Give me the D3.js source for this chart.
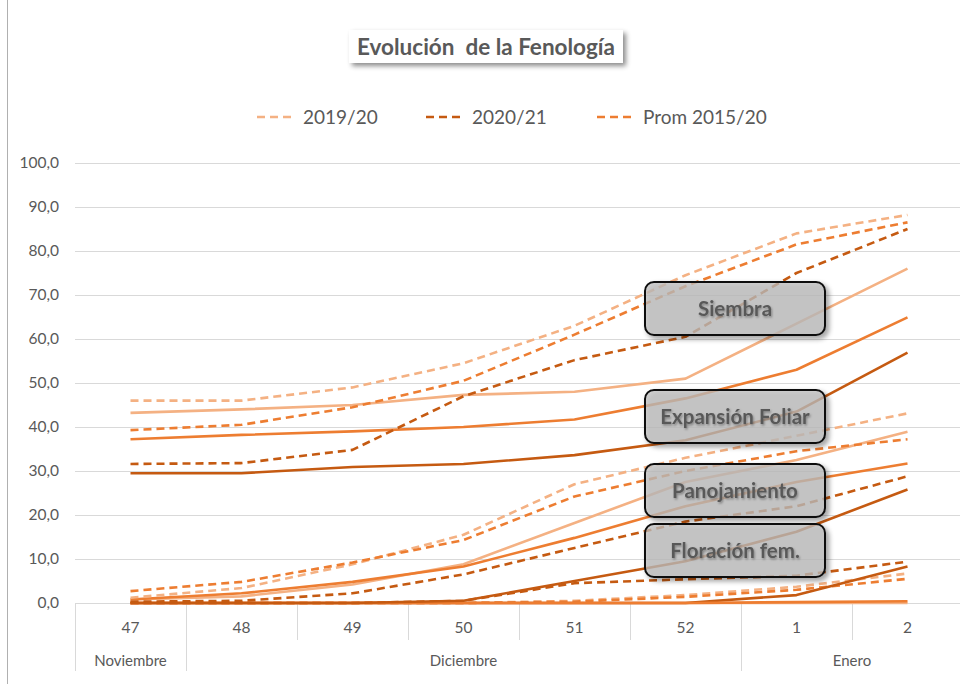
<!DOCTYPE html>
<html>
<head>
<meta charset="utf-8">
<script src="https://cdn.jsdelivr.net/npm/d3@7"></script>
<style>
	body { margin: 0; background: #fff; }
	#idContent { width: 960px; height: 684px; overflow: hidden; }
	text { font-family: Lato, "Open Sans", sans-serif; }
</style>
</head>
<body>
<div id="idContent"></div>
<script>
var aWeeks = ["47", "48", "49", "50", "51", "52", "1", "2"];
var aMonths = ["Noviembre", "Diciembre", "Enero"];
var aMonthSpans = [1, 5, 2];
var aYTicks = [0, 10, 20, 30, 40, 50, 60, 70, 80, 90, 100];
var aSeasons = ["2019/20", "2020/21", "Prom 2015/20"];
var aSeasonColors = ["#F4B183", "#C55A11", "#ED7D31"];
var aLabels = ["Siembra", "Expansión Foliar", "Panojamiento", "Floración fem."];

// Siembra (dashed, upper group)
var aSiembra1920 = [46, 46, 49, 54.5, 63, 74.5, 84, 88.2];
var aSiembra2021 = [31.6, 31.8, 34.8, 47, 55.2, 60.5, 75, 85];
var aSiembraProm = [39.3, 40.5, 44.5, 50.5, 61, 72, 81.5, 86.5];

// Expansion foliar (solid, upper group)
var aExpansion1920 = [43.2, 44, 45, 47.3, 48, 51, 63.5, 76];
var aExpansion2021 = [29.5, 29.5, 30.9, 31.6, 33.6, 37, 43.5, 56.9];
var aExpansionProm = [37.2, 38.2, 39, 40, 41.7, 46.5, 53, 64.9];

// Panojamiento (dashed, lower group)
var aPanoja1920 = [1.2, 3.4, 8.8, 15.5, 27, 33, 38, 43.1];
var aPanoja2021 = [0.3, 0.5, 2.2, 6.5, 12.5, 18.5, 22, 28.8];
var aPanojaProm = [2.7, 4.8, 9.2, 14.3, 24.2, 30, 34.5, 37.2];

// Floracion fem. (solid, lower group)
var aFloracion1920 = [0.8, 1.5, 4.2, 8.8, 18.2, 27.5, 32.5, 38.9];
var aFloracion2021 = [0, 0, 0, 0.5, 5, 9.5, 16.2, 25.8];
var aFloracionProm = [0.8, 2.2, 4.8, 8.3, 14.8, 22, 27.5, 31.7];

// near-zero group, dashed
var aBajaDash1920 = [0, 0, 0, 0, 0.5, 1.8, 3.7, 6.7];
var aBajaDash2021 = [0, 0, 0, 0.5, 4.5, 5.4, 6.2, 9.4];
var aBajaDashProm = [0, 0, 0, 0, 0.3, 1.4, 3, 5.5];

// near-zero group, solid
var aBajaSolid1920 = [0, 0, 0, 0, 0, 0, 0, 0];
var aBajaSolid2021 = [0, 0, 0, 0, 0, 0, 1.8, 8.3];
var aBajaSolidProm = [0, 0, 0, 0, 0, 0, 0.2, 0.4];

function buildPhases() {
	return [
		{ dashed: true, series: [aBajaDash1920, aBajaDash2021, aBajaDashProm] },
		{ dashed: false, series: [aBajaSolid1920, aBajaSolid2021, aBajaSolidProm] },
		{ dashed: false, series: [aFloracion1920, aFloracion2021, aFloracionProm] },
		{ dashed: true, series: [aPanoja1920, aPanoja2021, aPanojaProm] },
		{ dashed: false, series: [aExpansion1920, aExpansion2021, aExpansionProm] },
		{ dashed: true, series: [aSiembra1920, aSiembra2021, aSiembraProm] }
	];
}

function createGraph() {
	var width = 960, height = 684;
	var margin = { top: 163, right: -3, bottom: 81, left: 75 };

	var svg = d3.select("#idContent").append("svg")
		.attr("width", width)
		.attr("height", height);

	var defs = svg.append("defs");
	var fShadow = defs.append("filter").attr("id", "boxShadow")
		.attr("x", "-10%").attr("y", "-20%").attr("width", "130%").attr("height", "160%");
	fShadow.append("feDropShadow").attr("dx", 3).attr("dy", 3).attr("stdDeviation", 2.5)
		.attr("flood-color", "#000").attr("flood-opacity", 0.45);
	var fText = defs.append("filter").attr("id", "textShadow")
		.attr("x", "-10%").attr("y", "-30%").attr("width", "130%").attr("height", "180%");
	fText.append("feDropShadow").attr("dx", 1).attr("dy", 1.5).attr("stdDeviation", 1.2)
		.attr("flood-color", "#000").attr("flood-opacity", 0.35);

	// chart area border (only the left edge is inside the picture)
	svg.append("line")
		.attr("x1", 7.5).attr("x2", 7.5).attr("y1", 0).attr("y2", height)
		.attr("stroke", "#b0b0b0").attr("stroke-width", 1);

	var x = d3.scaleBand().domain(aWeeks)
		.range([margin.left, width - margin.right])
		.padding(0);
	var y = d3.scaleLinear().domain([0, 100])
		.range([height - margin.bottom, margin.top]);

	// gridlines
	svg.append("g").selectAll("line")
		.data(aYTicks)
		.enter().append("line")
		.attr("x1", margin.left).attr("x2", width - margin.right)
		.attr("y1", function (d) { return Math.round(y(d)) + 0.5; })
		.attr("y2", function (d) { return Math.round(y(d)) + 0.5; })
		.attr("stroke", "#d9d9d9").attr("stroke-width", 1);

	// y labels
	svg.append("g").selectAll("text")
		.data(aYTicks)
		.enter().append("text")
		.attr("x", 59)
		.attr("y", function (d) { return y(d); })
		.attr("dy", "0.35em")
		.attr("text-anchor", "end")
		.attr("font-size", 15.5)
		.attr("fill", "#595959")
		.text(function (d) { return d.toFixed(1).replace(".", ","); });

	// x axis: week separators and month separators
	var aMonthEdges = [0];
	aMonthSpans.forEach(function (n, i) { aMonthEdges.push(aMonthEdges[i] + n); });
	var aEdges = d3.range(aWeeks.length + 1);
	svg.append("g").selectAll("line")
		.data(aEdges)
		.enter().append("line")
		.attr("x1", function (i) { return Math.round(margin.left + i * x.bandwidth()) + 0.5; })
		.attr("x2", function (i) { return Math.round(margin.left + i * x.bandwidth()) + 0.5; })
		.attr("y1", y(0))
		.attr("y2", function (i) { return aMonthEdges.indexOf(i) >= 0 ? 671 : 640; })
		.attr("stroke", "#d9d9d9").attr("stroke-width", 1);

	svg.append("g").selectAll("text")
		.data(aWeeks)
		.enter().append("text")
		.attr("x", function (d) { return x(d) + x.bandwidth() / 2; })
		.attr("y", 633)
		.attr("text-anchor", "middle")
		.attr("font-size", 15.5)
		.attr("fill", "#595959")
		.text(function (d) { return d; });

	svg.append("g").selectAll("text")
		.data(aMonths)
		.enter().append("text")
		.attr("x", function (d, i) {
			var x0 = x(aWeeks[aMonthEdges[i]]);
			var x1 = x(aWeeks[aMonthEdges[i + 1] - 1]) + x.bandwidth();
			return (x0 + x1) / 2;
		})
		.attr("y", 666)
		.attr("text-anchor", "middle")
		.attr("font-size", 15)
		.attr("fill", "#595959")
		.text(function (d) { return d; });

	// lines
	var line = d3.line()
		.x(function (d, i) { return x(aWeeks[i]) + x.bandwidth() / 2; })
		.y(function (d) { return y(d); });

	var aPhases = buildPhases();
	var gLines = svg.append("g").attr("fill", "none");
	aPhases.forEach(function (phase) {
		phase.series.forEach(function (aValues, i) {
			gLines.append("path")
				.attr("d", line(aValues))
				.attr("stroke", aSeasonColors[i])
				.attr("stroke-width", 2.6)
				.attr("stroke-dasharray", phase.dashed ? "8,5" : null)
				.attr("stroke-linejoin", "round");
		});
	});

	// phase labels
	var aLabelTops = [282, 390, 464, 524];
	var gLabels = svg.append("g");
	aLabels.forEach(function (sLabel, i) {
		var gBox = gLabels.append("g");
		gBox.append("rect")
			.attr("x", 645).attr("y", aLabelTops[i])
			.attr("width", 180).attr("height", 53)
			.attr("rx", 9).attr("ry", 9)
			.attr("fill", "#bfbfbf").attr("fill-opacity", 0.72)
			.attr("stroke", "#111").attr("stroke-width", 2)
			.attr("filter", "url(#boxShadow)");
		gBox.append("text")
			.attr("x", 735).attr("y", aLabelTops[i] + 27)
			.attr("dy", "0.35em")
			.attr("text-anchor", "middle")
			.attr("font-size", 20.5)
			.attr("font-weight", "bold")
			.attr("fill", "#595959")
			.attr("filter", "url(#textShadow)")
			.text(sLabel);
	});

	// title
	var gTitle = svg.append("g");
	gTitle.append("rect")
		.attr("x", 349).attr("y", 30).attr("width", 274).attr("height", 33)
		.attr("fill", "#fff")
		.attr("filter", "url(#boxShadow)");
	gTitle.append("text")
		.attr("x", 486).attr("y", 47)
		.attr("dy", "0.35em")
		.attr("text-anchor", "middle")
		.attr("font-size", 22.5)
		.attr("font-weight", "bold")
		.attr("fill", "#595959")
		.style("white-space", "pre")
		.text("Evolución  de la Fenología");

	// legend
	var aLegendX = [257, 426, 597];
	var gLegend = svg.append("g");
	aSeasons.forEach(function (sName, i) {
		gLegend.append("line")
			.attr("x1", aLegendX[i]).attr("x2", aLegendX[i] + 38)
			.attr("y1", 117).attr("y2", 117)
			.attr("stroke", aSeasonColors[i])
			.attr("stroke-width", 2.6)
			.attr("stroke-dasharray", "8,5");
		gLegend.append("text")
			.attr("x", aLegendX[i] + 46).attr("y", 117)
			.attr("dy", "0.35em")
			.attr("font-size", 19)
			.attr("fill", "#595959")
			.text(sName);
	});
}

createGraph();
</script>
</body>
</html>
